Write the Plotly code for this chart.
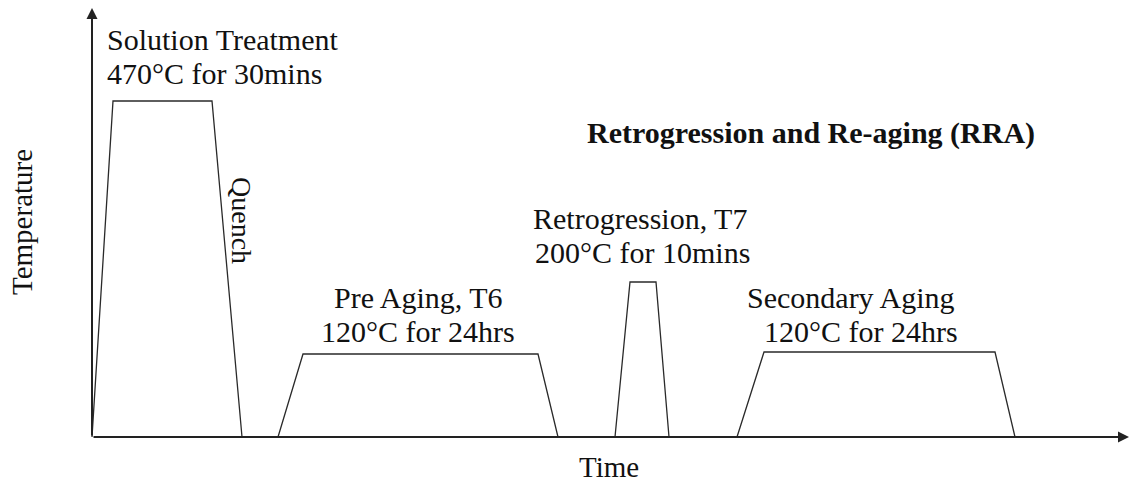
import plotly.graph_objects as go

# ---- data (time in arbitrary units, temperature in arbitrary units) ----
solution_time = [0, 21, 120, 150]
solution_temp = [0, 336, 336, 0]
preaging_time = [186, 211, 446, 466]
preaging_temp = [0, 83, 83, 0]
retro_time = [523, 538, 564, 577]
retro_temp = [0, 155, 155, 0]
secondary_time = [645, 672, 903, 923]
secondary_temp = [0, 85, 85, 0]

stage_titles = ["Solution Treatment", "Pre Aging, T6", "Retrogression, T7", "Secondary Aging"]
stage_conditions = ["470°C for 30mins", "120°C for 24hrs", "200°C for 10mins", "120°C for 24hrs"]

X0, Y0 = 92, 437  # pixel position of origin
W, H = 1131, 490

def px(x):
    return x - X0

def py(y):
    return Y0 - y

xs, ys = [], []
for t, T in [(solution_time, solution_temp), (preaging_time, preaging_temp),
             (retro_time, retro_temp), (secondary_time, secondary_temp)]:
    xs += t + [None]
    ys += T + [None]

fig = go.Figure()
fig.add_trace(go.Scatter(x=xs, y=ys, mode="lines",
                         line=dict(color="#2a2a2a", width=1.3),
                         hoverinfo="skip", showlegend=False))

FONT = "Liberation Serif, Times New Roman, serif"
FS = 30

ann = []
# axes arrows
ann.append(dict(x=px(1129), y=0, ax=0, ay=0, xref="x", yref="y", axref="x", ayref="y",
                showarrow=True, arrowhead=2, arrowsize=1.1, arrowwidth=2, arrowcolor="#222", text=""))
ann.append(dict(x=0, y=py(8), ax=0, ay=0, xref="x", yref="y", axref="x", ayref="y",
                showarrow=True, arrowhead=2, arrowsize=1.1, arrowwidth=2, arrowcolor="#222", text=""))

def label(text, x, y, size=FS, bold=False, angle=0, xanchor="center"):
    ann.append(dict(text=("<b>%s</b>" % text) if bold else text, x=px(x), y=py(y),
                    xref="x", yref="y", showarrow=False, textangle=angle,
                    xanchor=xanchor, yanchor="middle",
                    font=dict(family=FONT, size=size, color="#111")))

label(stage_titles[0], 105, 39, xanchor="left")
label(stage_conditions[0], 105, 73, xanchor="left")
label(stage_titles[1], 418, 297)
label(stage_conditions[1], 418, 331)
label(stage_titles[2], 640, 218)
label(stage_conditions[2], 642, 252)
label(stage_titles[3], 850, 297)
label(stage_conditions[3], 861, 331)
label("Retrogression and Re-aging (RRA)", 811, 133, size=FS, bold=True)
label("Quench", 242, 220, size=28, angle=90)
label("Temperature", 22, 222, size=29, angle=-90)
label("Time", 609, 467, size=29)

fig.update_layout(
    width=W, height=H,
    margin=dict(l=0, r=0, t=0, b=0),
    paper_bgcolor="white", plot_bgcolor="white",
    xaxis=dict(range=[px(0), px(W)], visible=False, fixedrange=True),
    yaxis=dict(range=[py(H), py(0)], visible=False, fixedrange=True),
    annotations=ann,
)

fig.write_html("out.html", config={"displayModeBar": False},
               post_script="document.body.style.margin='0';")
